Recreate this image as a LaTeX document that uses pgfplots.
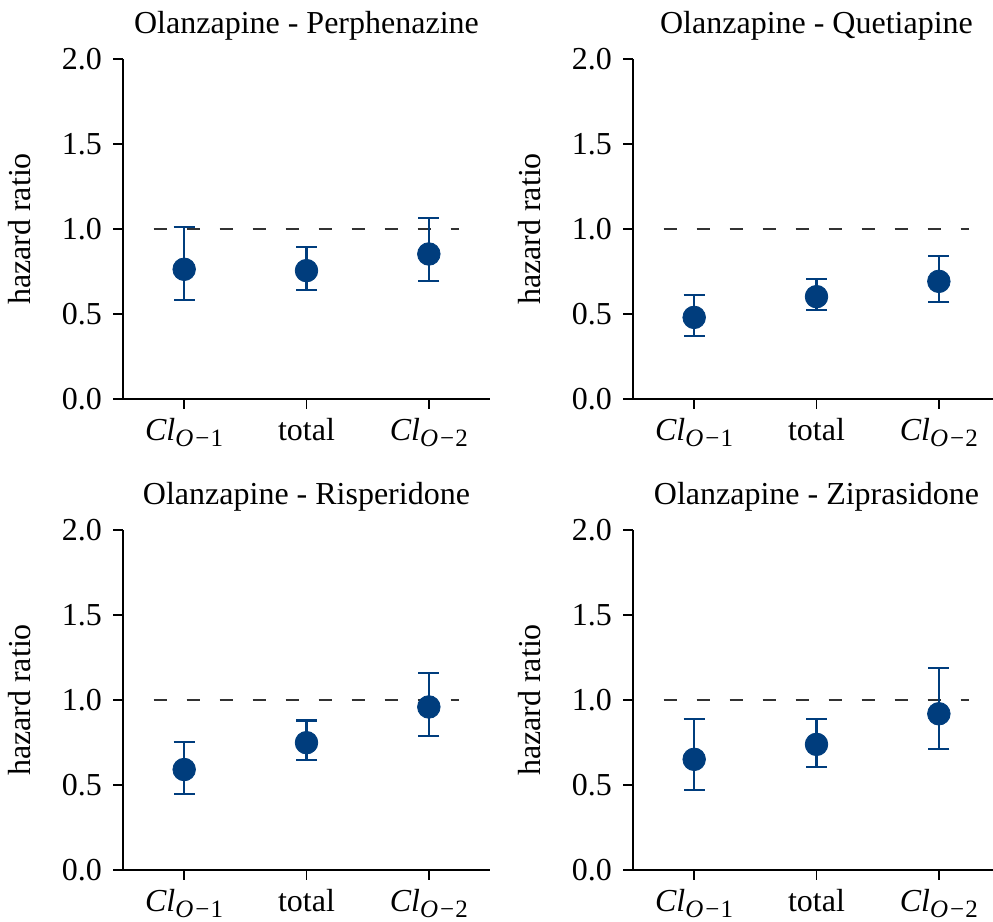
\documentclass[border=0pt]{standalone}
\usepackage{fontspec}
\setmainfont{Liberation Serif}
\usepackage{pgfplots}
\usepackage{pgfplotstable}
\pgfplotsset{compat=1.18}
\usepgfplotslibrary{groupplots}
\definecolor{pblue}{RGB}{0,61,125}
\definecolor{dgray}{RGB}{50,50,50}
\newcommand{\cl}[1]{\textit{Cl}\raisebox{-0.2em}{\fontsize{12.5}{13}\selectfont\textit{O}\kern0.08em−\kern0.05em#1}}

\pgfplotstableread{
x y hi lo
0 0.763 1.013 0.582
1 0.755 0.892 0.641
2 0.853 1.063 0.694
}\dataA
\pgfplotstableread{
x y hi lo
0 0.480 0.612 0.371
1 0.602 0.704 0.522
2 0.692 0.843 0.571
}\dataB
\pgfplotstableread{
x y hi lo
0 0.591 0.751 0.447
1 0.749 0.879 0.649
2 0.959 1.161 0.788
}\dataC
\pgfplotstableread{
x y hi lo
0 0.651 0.889 0.469
1 0.739 0.889 0.608
2 0.919 1.188 0.710
}\dataD

\pgfplotsset{
  hrstyle/.style={
    width=183.5pt, height=170pt, scale only axis,
    xmin=-0.5, xmax=2.5, ymin=0, ymax=2,
    axis x line*=bottom, axis y line*=left,
    axis line style={line width=0.8pt, black},
    xtick={0,1,2}, xticklabels={\cl{1}, total, \cl{2}},
    xticklabel style={yshift=1pt},
    ytick={0,0.5,1,1.5,2},
    yticklabel style={/pgf/number format/.cd, fixed, fixed zerofill, precision=1},
    /pgf/number format/assume math mode=true,
    tick align=outside, major tick length=5pt,
    tick style={line width=0.8pt, black},
    ylabel={hazard ratio},
    ylabel style={yshift=4.5pt},
    title style={anchor=base, yshift=6.5pt},
  },
  hrplot/.style={
    only marks, mark=*, mark size=5.65pt,
    mark options={fill=pblue, draw=pblue},
    color=pblue,
    error bars/.cd, y dir=both, y explicit,
    error bar style={line width=1.1pt, pblue},
    error mark options={rotate=90, mark size=5.25pt, line width=1.1pt, pblue},
  },
  refline/.style={dgray, line width=0.65pt, dash pattern=on 6.5pt off 10pt, no marks},
}

\begin{document}
\fontsize{16}{19}\selectfont
\begin{tikzpicture}
\begin{groupplot}[group style={group name=G, group size=2 by 2, horizontal sep=71.5pt, vertical sep=65.5pt}, hrstyle]
\nextgroupplot[title={Olanzapine - Perphenazine}]
\addplot[refline] coordinates {(-0.25,1) (2.25,1)};
\addplot[hrplot] table[x=x, y=y, y error plus expr=\thisrow{hi}-\thisrow{y}, y error minus expr=\thisrow{y}-\thisrow{lo}] {\dataA};
\nextgroupplot[title={Olanzapine - Quetiapine}]
\addplot[refline] coordinates {(-0.25,1) (2.25,1)};
\addplot[hrplot] table[x=x, y=y, y error plus expr=\thisrow{hi}-\thisrow{y}, y error minus expr=\thisrow{y}-\thisrow{lo}] {\dataB};
\nextgroupplot[title={Olanzapine - Risperidone}]
\addplot[refline] coordinates {(-0.25,1) (2.25,1)};
\addplot[hrplot] table[x=x, y=y, y error plus expr=\thisrow{hi}-\thisrow{y}, y error minus expr=\thisrow{y}-\thisrow{lo}] {\dataC};
\nextgroupplot[title={Olanzapine - Ziprasidone}]
\addplot[refline] coordinates {(-0.25,1) (2.25,1)};
\addplot[hrplot] table[x=x, y=y, y error plus expr=\thisrow{hi}-\thisrow{y}, y error minus expr=\thisrow{y}-\thisrow{lo}] {\dataD};
\end{groupplot}
\pgfresetboundingbox
\path[use as bounding box] ([xshift=-61.5pt, yshift=29.5pt]G c1r1.north west) rectangle ([xshift=180pt, yshift=-26pt]G c2r2.south west);
\end{tikzpicture}
\end{document}
